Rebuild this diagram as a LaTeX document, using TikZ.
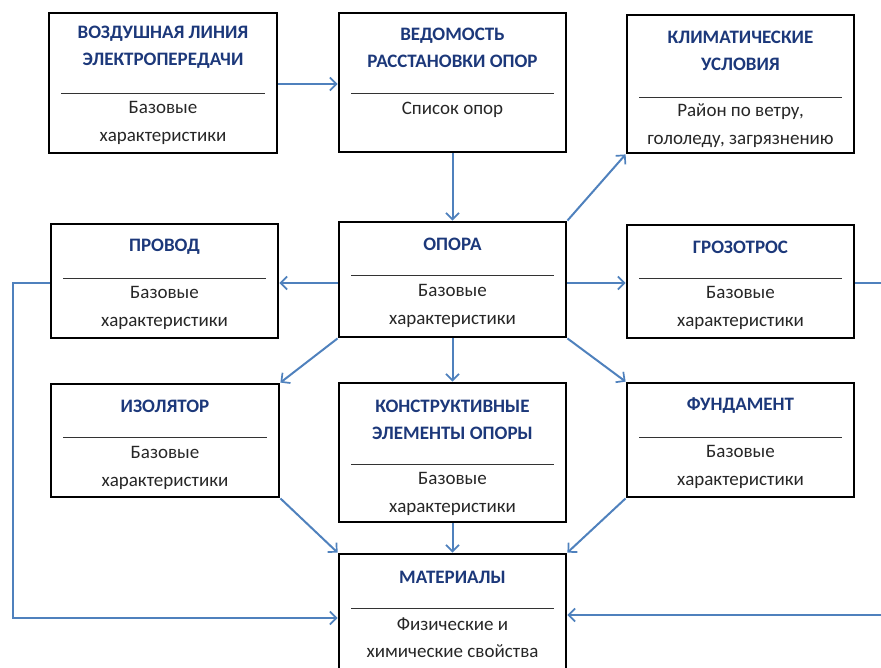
\documentclass[tikz,border=0pt]{standalone}
\usepackage{fontspec}
\setmainfont{Carlito}
\usetikzlibrary{arrows.meta}
\definecolor{headblue}{RGB}{28,56,122}
\definecolor{arrowblue}{RGB}{79,129,189}
\begin{document}
\begin{tikzpicture}[x=1pt,y=-1pt,
  box/.style={draw=black,line width=2.8pt,inner sep=0pt},
  head/.style={text=headblue,font=\fontsize{19}{27}\bfseries\selectfont,align=center,inner sep=0pt},
  body/.style={text=black!85,font=\fontsize{19}{27.5}\selectfont,align=center,inner sep=0pt},
  sepline/.style={draw=black!80,line width=0.9pt},
  conn/.style={draw=arrowblue,line width=2pt,-{Straight Barb[length=6.5pt,width=13pt,line width=1.7pt]}},
  link/.style={draw=arrowblue,line width=2pt}]
\useasboundingbox (0,0) rectangle (881,668);
% boxes
\node[box,minimum width=228pt,minimum height=140pt] (vl) at (163,83) {};
\node[box,minimum width=227pt,minimum height=139pt] (ved) at (452.5,82.5) {};
\node[box,minimum width=227pt,minimum height=138pt] (klim) at (740.5,84) {};
\node[box,minimum width=227pt,minimum height=114pt] (prov) at (164.5,281) {};
\node[box,minimum width=227pt,minimum height=115pt] (opora) at (452.5,279.5) {};
\node[box,minimum width=227pt,minimum height=113pt] (groz) at (740.5,281.5) {};
\node[box,minimum width=228pt,minimum height=113pt] (izol) at (165,440.5) {};
\node[box,minimum width=227pt,minimum height=139pt] (konstr) at (452.5,452.5) {};
\node[box,minimum width=227pt,minimum height=114pt] (fund) at (740.5,440) {};
\node[box,minimum width=227pt,minimum height=140pt] (mat) at (452.5,624) {};
% texts
\node[head] (vlh) at (163,47.5) {ВОЗДУШНАЯ ЛИНИЯ\\ЭЛЕКТРОПЕРЕДАЧИ};
\draw[sepline] (61,93) -- (265,93);
\node[body] (vlb) at (163,123) {Базовые\\характеристики};
\node[head] (vedh) at (452.5,47.5) {ВЕДОМОСТЬ\\РАССТАНОВКИ ОПОР};
\draw[sepline] (351,93) -- (554,93);
\node[body] (vedb) at (452.5,109.5) {Список опор};
\node[head] (klimh) at (740.5,50.5) {КЛИМАТИЧЕСКИЕ\\УСЛОВИЯ};
\draw[sepline] (639,97) -- (842,97);
\node[body] (klimb) at (740.5,125.5) {Район по ветру,\\гололеду, загрязнению};
\node[head] (provh) at (164.5,247) {ПРОВОД};
\draw[sepline] (63,278) -- (266,278);
\node[body] (provb) at (164.5,308) {Базовые\\характеристики};
\node[head] (oporah) at (452.5,244) {ОПОРА};
\draw[sepline] (351,275) -- (554,275);
\node[body] (oporab) at (452.5,306) {Базовые\\характеристики};
\node[head] (grozh) at (740.5,247) {ГРОЗОТРОС};
\draw[sepline] (639,278) -- (842,278);
\node[body] (grozb) at (740.5,308) {Базовые\\характеристики};
\node[head] (izolh) at (165,406) {ИЗОЛЯТОР};
\draw[sepline] (63,437) -- (267,437);
\node[body] (izolb) at (165,468) {Базовые\\характеристики};
\node[head] (konstrh) at (452.5,419.5) {КОНСТРУКТИВНЫЕ\\ЭЛЕМЕНТЫ ОПОРЫ};
\draw[sepline] (351,464) -- (554,464);
\node[body] (konstrb) at (452.5,494) {Базовые\\характеристики};
\node[head] (fundh) at (740.5,406) {ФУНДАМЕНТ};
\draw[sepline] (639,437) -- (842,437);
\node[body] (fundb) at (740.5,467) {Базовые\\характеристики};
\node[head] (math) at (452.5,577) {МАТЕРИАЛЫ};
\draw[sepline] (351,608) -- (554,608);
\node[body] (matb) at (452.5,637.5) {Физические и\\химические свойства};
% connectors
\coordinate (r1) at (0,84);
\coordinate (r2) at (0,283);
\coordinate (lw) at (13,0);
\coordinate (rw) at (890,0);
\coordinate (ml) at (0,618);
\coordinate (mr) at (0,615);
\draw[conn] (vl.east |- r1) -- (ved.west |- r1);
\draw[conn] (ved.south) -- (opora.north);
\draw[conn] (opora.north east) -- (klim.south west);
\draw[conn] (opora.west |- r2) -- (prov.east |- r2);
\draw[conn] (opora.east |- r2) -- (groz.west |- r2);
\draw[conn] (opora.south west) -- (izol.north east);
\draw[conn] (opora.south) -- (konstr.north);
\draw[conn] (opora.south east) -- (fund.north west);
\draw[conn] (izol.south east) -- (mat.north west);
\draw[conn] (konstr.south) -- (mat.north);
\draw[conn] (fund.south west) -- (mat.north east);
\draw[conn] (prov.west |- r2) -- (lw |- r2) -- (lw |- ml) -- (mat.west |- ml);
\draw[conn] (groz.east |- r2) -- (rw |- r2) -- (rw |- mr) -- (mat.east |- mr);
\end{tikzpicture}
\end{document}
